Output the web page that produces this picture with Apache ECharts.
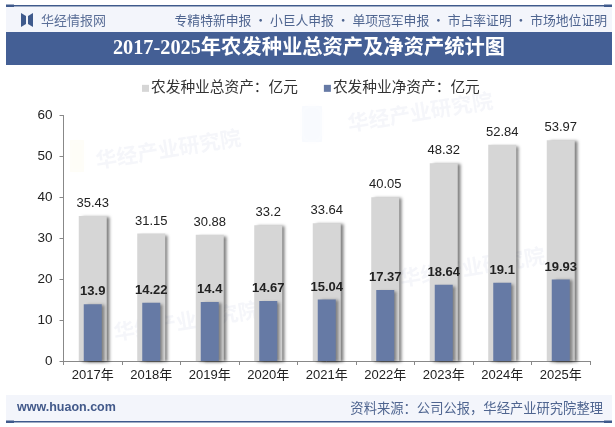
<!DOCTYPE html>
<html>
<head>
<meta charset="utf-8">
<style>html,body{margin:0;padding:0;background:#fff}#main{width:615px;height:427px}</style>
<script src="https://cdn.jsdelivr.net/npm/echarts@6/dist/echarts.min.js"></script>
</head>
<body>
<div id="main"></div>
<script>
const years = ['2017年','2018年','2019年','2020年','2021年','2022年','2023年','2024年','2025年'];
const totalAssets = [35.43,31.15,30.88,33.2,33.64,40.05,48.32,52.84,53.97];
const netAssets = [13.9,14.22,14.4,14.67,15.04,17.37,18.64,19.1,19.93];
const totalName = '农发种业总资产：亿元';
const netName = '农发种业净资产：亿元';
const FONT = '"Liberation Sans","Noto Sans CJK SC",sans-serif';
const NAVY = '#3f5a8c';

// Faint tilted brand marks behind the plot
const stamps = [[94,150],[346,113],[112,322],[398,268]].map(([x,y]) => ({
  type:'text', x, y, z:-1, silent:true, rotation:0.16, originX:0, originY:0,
  style:{text:'华经产业研究院', fill:'rgba(160,175,205,0.11)', font:'bold 21px "Noto Sans CJK SC"'}
}));

const chart = echarts.init(document.getElementById('main'), null, {renderer:'canvas'});
chart.setOption({
  animation:false,
  backgroundColor:'#fff',
  graphic:[
    ...stamps,
    {type:'rect', z:-1, shape:{x:302,y:106,width:20,height:36}, style:{fill:'rgba(170,195,235,0.07)', shadowBlur:8, shadowColor:'rgba(170,195,235,0.15)'}},
    {type:'rect', z:-1, shape:{x:70,y:140,width:14,height:32}, style:{fill:'rgba(245,225,170,0.08)', shadowBlur:8, shadowColor:'rgba(245,225,170,0.15)'}},
    {type:'rect', shape:{x:6,y:7,width:606,height:26}, style:{fill:'#f3f5fb'}},
    {type:'rect', shape:{x:6,y:5,width:606,height:1.5}, style:{fill:NAVY}},
    {type:'rect', shape:{x:6,y:4.5,width:8,height:2.5}, style:{fill:NAVY}},
    {type:'rect', shape:{x:604,y:4.5,width:8,height:2.5}, style:{fill:NAVY}},
    {type:'polygon', shape:{points:[[21,13],[26,16],[26,24],[21,27]]}, style:{fill:NAVY}},
    {type:'polygon', shape:{points:[[33,13],[28,16],[28,24],[33,27]]}, style:{fill:NAVY}},
    {type:'text', x:41, y:20, style:{text:'华经情报网', fill:'#5b6f98', font:'13px "Noto Sans CJK SC"', verticalAlign:'middle'}},
    {type:'text', x:607, y:20, style:{text:'专精特新申报 · 小巨人申报 · 单项冠军申报 · 市占率证明 · 市场地位证明', fill:'#4f6590', font:'12.8px "Noto Sans CJK SC"', align:'right', verticalAlign:'middle'}},
    {type:'rect', shape:{x:6,y:32,width:606,height:33}, style:{fill:'#445f95'}},
    {type:'text', x:309, y:49, style:{text:'2017-2025年农发种业总资产及净资产统计图', fill:'#fff', font:'bold 20.3px "Liberation Serif","Noto Sans CJK SC"', align:'center', verticalAlign:'middle'}},
    {type:'rect', shape:{x:6,y:395,width:606,height:27}, style:{fill:'#f3f5fb'}},
    {type:'rect', shape:{x:6,y:421,width:606,height:1.5}, style:{fill:NAVY}},
    {type:'rect', shape:{x:6,y:420.5,width:8,height:2.5}, style:{fill:NAVY}},
    {type:'rect', shape:{x:604,y:420.5,width:8,height:2.5}, style:{fill:NAVY}},
    {type:'text', x:17, y:408, style:{text:'www.huaon.com', fill:'#42598a', font:'bold 12.5px "Liberation Sans"', verticalAlign:'middle'}},
    {type:'text', x:603, y:408, style:{text:'资料来源：公司公报，华经产业研究院整理', fill:'#4f6590', font:'13.3px "Noto Sans CJK SC"', align:'right', verticalAlign:'middle'}}
  ],
  legend:{
    top:76, left:137, itemWidth:7, itemHeight:7, itemGap:26, icon:'rect',
    textStyle:{fontFamily:FONT, fontSize:14.7, color:'#333', padding:[0,0,0,-3]},
    data:[totalName, netName]
  },
  grid:{left:63.5, right:25, top:115.5, height:245.5, containLabel:false},
  xAxis:[
    {type:'category', data:years, axisTick:{show:true, alignWithLabel:false, length:4, lineStyle:{color:'#888'}},
     axisLine:{lineStyle:{color:'#888'}}, axisLabel:{color:'#222', fontSize:13, fontFamily:FONT, margin:8, interval:0}},
    {type:'category', data:years, show:false}
  ],
  yAxis:{type:'value', min:0, max:60, interval:10,
    axisLine:{show:true, lineStyle:{color:'#888'}}, axisTick:{show:true, length:4, lineStyle:{color:'#888'}},
    splitLine:{show:false}, axisLabel:{color:'#222', fontSize:13.5, fontFamily:FONT, margin:11}},
  series:[
    {name:totalName, type:'bar', xAxisIndex:0, barWidth:28, data:totalAssets, z:2,
     itemStyle:{color:'#d6d6d6', shadowColor:'rgba(0,0,0,0.5)', shadowBlur:3, shadowOffsetX:3, shadowOffsetY:1},
     label:{show:true, position:'top', distance:6, color:'#222', fontSize:13, fontFamily:FONT}},
    {name:netName, type:'bar', xAxisIndex:1, barWidth:18, data:netAssets, z:3,
     itemStyle:{color:'#667aa5', shadowColor:'rgba(0,0,0,0.4)', shadowBlur:3, shadowOffsetX:3, shadowOffsetY:1},
     label:{show:true, position:'top', distance:6, color:'#222', fontSize:13, fontWeight:'bold', fontFamily:FONT}}
  ]
});
</script>
</body>
</html>
